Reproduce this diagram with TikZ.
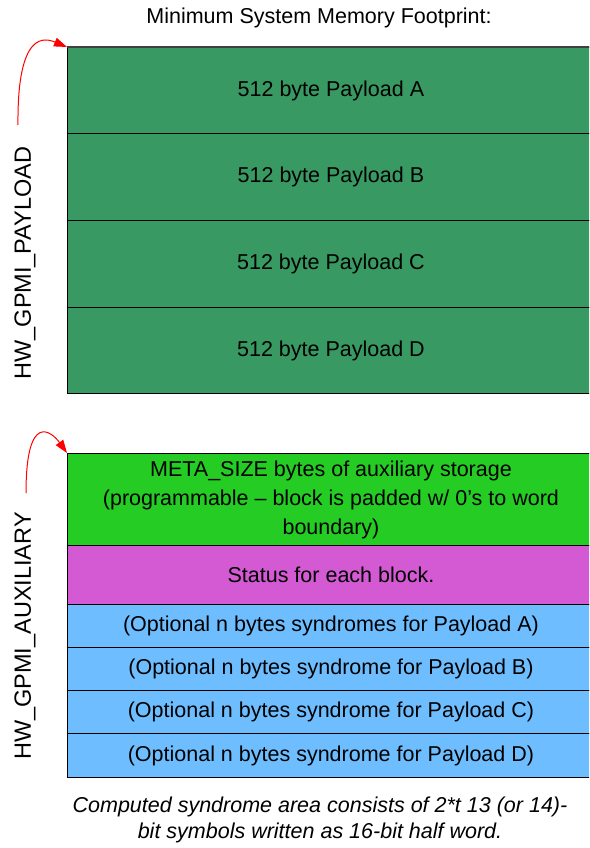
\documentclass[tikz,border=0pt]{standalone}
\usepackage{fontspec}
\setmainfont{Liberation Sans}
\usetikzlibrary{arrows.meta}
\definecolor{paygreen}{RGB}{56,154,98}
\definecolor{metagreen}{RGB}{36,204,36}
\definecolor{statmag}{RGB}{212,90,212}
\definecolor{synblue}{RGB}{110,190,255}
\begin{document}
\begin{tikzpicture}[x=1pt,y=-1pt,
  row/.style={draw=black, line width=0.9pt, anchor=north west, minimum width=527pt,
    inner sep=0pt, font=\fontsize{21.5}{29}\selectfont, align=center},
  lbl/.style={font=\fontsize{23.5}{26}\selectfont, rotate=90},
  ptr/.style={red, line width=1pt, -{Triangle[length=13pt,width=9pt]}}]
\useasboundingbox (0,0) rectangle (589,848);
\clip (0,0) rectangle (589,848);
\node[font=\fontsize{21.5}{24}\selectfont] (title) at (319,18) {Minimum System Memory Footprint:};
% payload block
\node[row, fill=paygreen, minimum height=86pt] (pa) at (67,47) {512 byte Payload A};
\node[row, fill=paygreen, minimum height=87pt] (pb) at (67,133) {512 byte Payload B};
\node[row, fill=paygreen, minimum height=87pt] (pc) at (67,220) {512 byte Payload C};
\node[row, fill=paygreen, minimum height=86pt] (pd) at (67,307) {512 byte Payload D};
\draw[line width=2pt, black!75] (pa.north west) -- (pa.north east);
% auxiliary block
\node[row, fill=metagreen, minimum height=92pt] (meta) at (67,453)
  {META\_SIZE bytes of auxiliary storage\\(programmable -- block is padded w/ 0's to word\\boundary)};
\node[row, fill=statmag, minimum height=59pt] (stat) at (67,545) {Status for each block.};
\node[row, fill=synblue, minimum height=43pt] (sa) at (67,604) {(Optional n bytes syndromes for Payload A)};
\node[row, fill=synblue, minimum height=43pt] (sb) at (67,647) {(Optional n bytes syndrome for Payload B)};
\node[row, fill=synblue, minimum height=43pt] (sc) at (67,690) {(Optional n bytes syndrome for Payload C)};
\node[row, fill=synblue, minimum height=44pt] (sd) at (67,733) {(Optional n bytes syndrome for Payload D)};
% side labels
\node[lbl] (lpay) at (25,263) {HW\_GPMI\_PAYLOAD};
\node[lbl] (laux) at (25,636) {HW\_GPMI\_AUXILIARY};
\coordinate (s1) at (18,125);
\coordinate (s2) at (26,493);
\draw[ptr] (s1) .. controls (17,30) and (45,38) .. (pa.north west);
\draw[ptr] (s2) .. controls (26,410) and (52,432) .. (meta.north west);
% caption
\node[font=\fontsize{21.5}{26}\selectfont\itshape, align=center] (cap) at (320,820)
  {Computed syndrome area consists of 2*t 13 (or 14)-\\bit symbols written as 16-bit half word.};
\end{tikzpicture}
\end{document}
